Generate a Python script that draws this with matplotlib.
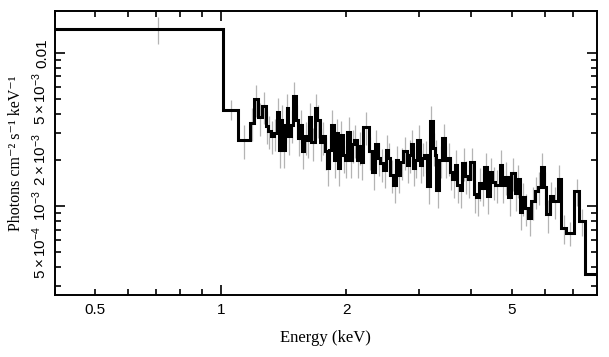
import numpy as np
import matplotlib
matplotlib.use("Agg")
import matplotlib.pyplot as plt
from matplotlib.ticker import FixedLocator, FixedFormatter

plt.rcParams['mathtext.fontset'] = 'custom'
plt.rcParams['mathtext.rm'] = 'Liberation Sans'
plt.rcParams['mathtext.it'] = 'Liberation Sans:italic'
plt.rcParams['font.family'] = ['Liberation Sans', 'DejaVu Sans']

# bin edges (keV)
edges = [0.40, 1.013, 1.100, 1.173, 1.201, 1.230, 1.253, 1.281, 1.298, 1.321,
         1.341, 1.366, 1.381, 1.392, 1.407, 1.423, 1.439, 1.454, 1.471, 1.492,
         1.514, 1.531, 1.548, 1.568, 1.588, 1.611, 1.627, 1.651, 1.681, 1.700,
         1.731, 1.750, 1.776, 1.799, 1.823, 1.843, 1.867, 1.890, 1.911, 1.937,
         1.962, 1.983, 2.013, 2.042, 2.065, 2.088, 2.122, 2.151, 2.174, 2.202,
         2.264, 2.314, 2.349, 2.383, 2.414, 2.459, 2.490, 2.527, 2.555, 2.598,
         2.631, 2.660, 2.695, 2.745, 2.795, 2.826, 2.858, 2.900, 2.932, 2.965,
         3.009, 3.043, 3.076, 3.133, 3.180, 3.226, 3.261, 3.297, 3.347, 3.408,
         3.454, 3.498, 3.550, 3.601, 3.649, 3.696, 3.751, 3.805, 3.862, 3.920,
         3.977, 4.052, 4.110, 4.172, 4.235, 4.296, 4.360, 4.425, 4.489, 4.556,
         4.676, 4.736, 4.807, 4.895, 4.985, 5.079, 5.152, 5.221, 5.287, 5.366,
         5.465, 5.565, 5.670, 5.774, 5.861, 5.968, 6.044, 6.159, 6.272, 6.447,
         6.565, 6.748, 7.068, 7.265, 7.493, 8.0]

# photons cm^-2 s^-1 keV^-1, in units of 1e-3
flux = [14.35, 4.26, 2.71, 3.50, 5.00, 3.78, 4.50, 3.35, 3.10, 2.87,
        3.00, 4.10, 2.33, 3.66, 2.33, 3.40, 4.35, 2.85, 3.40, 5.20,
        3.66, 2.78, 3.40, 2.30, 2.85, 2.71, 3.78, 2.60, 4.35, 3.66,
        2.60, 2.85, 2.27, 1.78, 2.33, 3.40, 2.01, 3.00, 1.78, 2.90,
        2.16, 2.00, 3.05, 2.00, 2.52, 2.71, 2.00, 2.45, 1.94, 3.30,
        2.27, 1.67, 2.52, 2.07, 1.90, 1.73, 2.33, 2.07, 1.60, 1.38,
        2.00, 1.60, 1.94, 2.27, 1.86, 2.16, 2.52, 1.78, 2.00, 2.71,
        1.86, 2.07, 2.15, 1.36, 3.60, 2.40, 2.16, 1.28, 2.00, 2.78,
        2.00, 2.07, 1.67, 1.49, 1.86, 1.38, 1.28, 1.92, 1.58, 1.49,
        1.94, 1.19, 1.14, 1.42, 1.32, 1.80, 1.17, 1.67, 1.44, 1.38,
        1.86, 1.38, 1.55, 1.14, 1.65, 1.22, 1.49, 0.92, 1.14, 0.97,
        0.84, 1.07, 1.25, 1.34, 1.80, 1.34, 0.88, 1.16, 1.08, 1.49,
        0.72, 0.67, 1.25, 0.80, 0.36]

edges = np.array(edges)
flux = np.array(flux) * 1e-3
centers = 0.5 * (edges[:-1] + edges[1:])
rel_err = np.full(len(flux), 0.24)
rel_err[:3] = [0.20, 0.15, 0.25]
rel_err[-5:] = [0.22, 0.18, 0.2, 0.2, 0.0]

fig = plt.figure(figsize=(6.09, 3.57), dpi=100)
ax = fig.add_axes([0.0903, 0.174, 0.8897, 0.795])

ax.errorbar(centers[:-1], flux[:-1], yerr=(flux * rel_err)[:-1], fmt='none',
            ecolor='#b4b4b4', elinewidth=0.9, zorder=1)
ax.stairs(flux, edges, baseline=None, color='black', linewidth=2.2, zorder=2)

ax.set_xscale('log')
ax.set_yscale('log')
ax.set_xlim(0.4, 8.0)
ax.set_ylim(2.63e-4, 1.87e-2)

xmaj = [1.0]
xmin = [0.4, 0.5, 0.6, 0.7, 0.8, 0.9, 2, 3, 4, 5, 6, 7]
ax.xaxis.set_major_locator(FixedLocator(xmaj))
ax.xaxis.set_major_formatter(FixedFormatter(['1']))
ax.xaxis.set_minor_locator(FixedLocator(xmin))
ax.xaxis.set_minor_formatter(FixedFormatter(['', '0.5', '', '', '', '', '2', '', '', '5', '', '']))

ymaj = [1e-3, 1e-2]
ymin = [3e-4, 4e-4, 5e-4, 6e-4, 7e-4, 8e-4, 9e-4,
        2e-3, 3e-3, 4e-3, 5e-3, 6e-3, 7e-3, 8e-3, 9e-3]
ax.yaxis.set_major_locator(FixedLocator(ymaj))
ax.yaxis.set_major_formatter(FixedFormatter([r'$10^{-3}$', '0.01']))
ax.yaxis.set_minor_locator(FixedLocator(ymin))
ax.yaxis.set_minor_formatter(FixedFormatter(['', '', r'$5\times10^{-4}$', '', '', '', '',
                                             r'$2\times10^{-3}$', '', '', r'$5\times10^{-3}$',
                                             '', '', '', '']))

ax.tick_params(which='both', direction='in', top=True, right=True, width=1.2,
               labelsize=11, colors='black')
ax.tick_params(which='major', length=7)
ax.tick_params(which='minor', length=4)
ax.tick_params(axis='x', which='both', pad=6)
ax.tick_params(axis='y', which='both', pad=4)
for lab in ax.get_yticklabels(which='both'):
    lab.set_rotation(90)
    lab.set_va('center')
for s in ax.spines.values():
    s.set_linewidth(1.4)

serif = ['Liberation Serif', 'DejaVu Serif']
ax.set_xlabel('Energy (keV)', family=serif, fontsize=12, labelpad=9)
ax.set_ylabel('Photons cm\u207b\u00b2 s\u207b\u00b9 keV\u207b\u00b9', family=serif,
              fontsize=11.5, labelpad=5)

fig.savefig('out.png', dpi=100)
